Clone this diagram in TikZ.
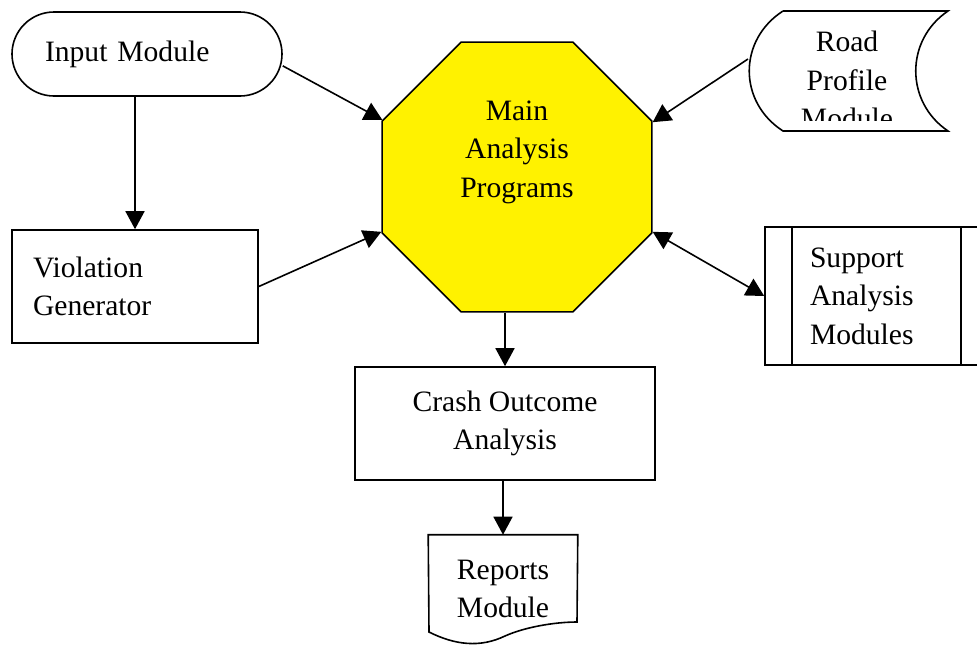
\documentclass[tikz,border=0pt]{standalone}
\usepackage{fontspec}
\setmainfont{Liberation Serif}
\usetikzlibrary{arrows.meta,shapes.geometric}
\tikzset{
  >={Triangle[length=18pt,width=19pt]},
  box/.style={draw, minimum height=113pt, inner sep=0pt},
  link/.style={->},
}
\begin{document}
\begin{tikzpicture}[x=1pt,y=-1pt,line width=1.6pt,font=\fontsize{29.6}{38.5}\selectfont]
  \clip (0,0) rectangle (977,646);
  % main octagon
  \node[draw,fill=yellow,regular polygon,regular polygon sides=8,minimum size=292pt,inner sep=0pt] (main) at (517,177) {};
  \node[align=center] (maintext) at (517,152) {Main\\Analysis\\Programs};
  % left column
  \node[draw,rounded corners=42pt,minimum width=270pt,minimum height=84pt,text width=204pt,inner xsep=33pt,align=left] (input) at (147,54) {Input Module};
  \node[box,minimum width=246pt,text width=204pt,inner xsep=21pt,align=left] (viol) at (135,286.5) {Violation\\Generator};
  % road profile (stored data)
  \draw (783,11) -- (948,11) .. controls (905,40) and (905,102) .. (948,131)
    -- (783,131) .. controls (738,102) and (738,40) .. (783,11);
  \begin{scope}
    \clip (760,0) rectangle (940,120);
    \node[align=center] (road) at (847,80) {Road\\Profile\\Module};
  \end{scope}
  \coordinate (roadin) at (748,59);
  % support modules
  \node[draw,minimum width=225pt,minimum height=138pt,text width=135pt,inner xsep=45pt,align=left] (sam) at (877.5,296) {Support\\Analysis\\Modules};
  \draw ([xshift=28pt]sam.north west) -- ([xshift=28pt]sam.south west);
  \draw ([xshift=197pt]sam.north west) -- ([xshift=197pt]sam.south west);
  % bottom
  \node[box,minimum width=300pt,align=center] (crash) at (505,423.5) {Crash Outcome\\Analysis};
  \node[minimum width=148pt,minimum height=107pt,inner sep=0pt,align=center] (reports) at (503,589) {Reports\\Module};
  \draw (reports.north west) -- (reports.north east) -- (577,622)
    .. controls (555,622) and (525,627) .. (505,636)
    .. controls (480,648) and (455,645) .. (429,632) -- cycle;
  % arrows
  \draw[link] (input.-5.5) -- (main.157.5);
  \draw[link] (viol.north |- input.south) -- (viol.north);
  \draw[link] (viol.east) -- (main.202.5);
  \draw[link] (roadin) -- (main.22.5);
  \draw[<->] (main.-22.5) -- (sam.west);
  \draw[link] (crash.north |- main.south) -- (crash.north);
  \draw[link] (reports.north |- crash.south) -- (reports.north);
\end{tikzpicture}
\end{document}
